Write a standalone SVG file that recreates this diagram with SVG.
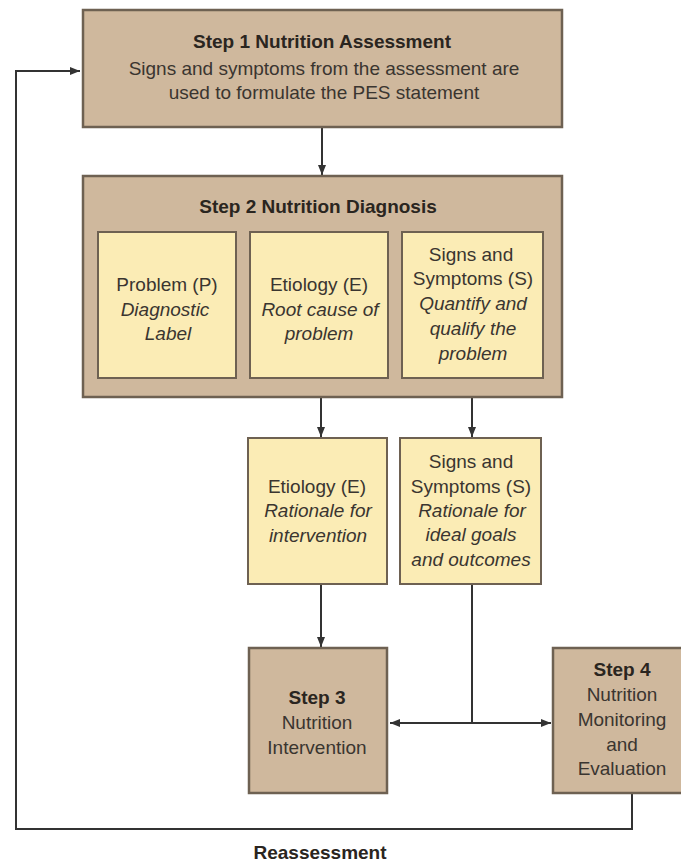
<svg xmlns="http://www.w3.org/2000/svg" width="681" height="864" viewBox="0 0 681 864">
<style>
.outer{fill:#cfb89d;stroke:#6e6152;stroke-width:2.5}
.inner{fill:#fbecb5;stroke:#6e6152;stroke-width:2}
text{font-family:"Liberation Sans",Arial,sans-serif;font-size:19px;fill:#3a3530;text-anchor:middle}
.b{font-weight:bold;fill:#2a2520}
.i{font-style:italic}
.ln{fill:none;stroke:#333;stroke-width:2}
</style>
<defs>
<marker id="ah" viewBox="0 0 10 10" refX="10" refY="5" markerWidth="10" markerHeight="10" markerUnits="userSpaceOnUse" orient="auto">
<path d="M0,1 L10,5 L0,9 z" fill="#333"/>
</marker>
</defs>
<rect width="681" height="864" fill="#fff"/>
<g id="connectors">
<line class="ln" x1="322" y1="127" x2="322" y2="175" marker-end="url(#ah)"/>
<line class="ln" x1="321" y1="378" x2="321" y2="437" marker-end="url(#ah)"/>
<line class="ln" x1="472" y1="378" x2="472" y2="437" marker-end="url(#ah)"/>
<line class="ln" x1="321" y1="584" x2="321" y2="647" marker-end="url(#ah)"/>
<line class="ln" x1="472" y1="584" x2="472" y2="723"/>
<line class="ln" x1="472" y1="723" x2="390" y2="723" marker-end="url(#ah)"/>
<line class="ln" x1="472" y1="723" x2="551" y2="723" marker-end="url(#ah)"/>
<polyline class="ln" points="632,793 632,829 16,829 16,71 80,71" marker-end="url(#ah)"/>
</g>
<g id="step1">
<rect class="outer" x="83" y="10" width="479" height="117"/>
<text class="b" x="322" y="48">Step 1 Nutrition Assessment</text>
<text x="324" y="75">Signs and symptoms from the assessment are</text>
<text x="324" y="99">used to formulate the PES statement</text>
</g>
<g id="step2">
<rect class="outer" x="83" y="176" width="479" height="221"/>
<text class="b" x="318" y="213">Step 2 Nutrition Diagnosis</text>
</g>
<g id="problem">
<rect class="inner" x="98" y="232" width="138" height="146"/>
<text x="167" y="291">Problem (P)</text>
<text class="i" x="165" y="316">Diagnostic</text>
<text class="i" x="168" y="340">Label</text>
</g>
<g id="etiology">
<rect class="inner" x="250" y="232" width="138" height="146"/>
<text x="319" y="291">Etiology (E)</text>
<text class="i" x="320" y="316">Root cause of</text>
<text class="i" x="319" y="340">problem</text>
</g>
<g id="signs">
<rect class="inner" x="402" y="232" width="141" height="146"/>
<text x="471" y="261">Signs and</text>
<text x="473" y="285">Symptoms (S)</text>
<text class="i" x="473" y="310">Quantify and</text>
<text class="i" x="473" y="335">qualify the</text>
<text class="i" x="473" y="360">problem</text>
</g>
<g id="etiology2">
<rect class="inner" x="248" y="438" width="139" height="146"/>
<text x="317" y="493">Etiology (E)</text>
<text class="i" x="318" y="517">Rationale for</text>
<text class="i" x="318" y="542">intervention</text>
</g>
<g id="signs2">
<rect class="inner" x="400" y="438" width="141" height="146"/>
<text x="471" y="468">Signs and</text>
<text x="471" y="493">Symptoms (S)</text>
<text class="i" x="472" y="517">Rationale for</text>
<text class="i" x="471" y="541">ideal goals</text>
<text class="i" x="471" y="566">and outcomes</text>
</g>
<g id="step3">
<rect class="outer" x="249" y="648" width="138" height="145"/>
<text class="b" x="317" y="704">Step 3</text>
<text x="317" y="729">Nutrition</text>
<text x="317" y="754">Intervention</text>
</g>
<g id="step4">
<rect class="outer" x="553" y="648" width="130" height="145"/>
<text class="b" x="622" y="676">Step 4</text>
<text x="622" y="701">Nutrition</text>
<text x="622" y="726">Monitoring</text>
<text x="622" y="751">and</text>
<text x="622" y="775">Evaluation</text>
</g>
<text class="b" x="320" y="859">Reassessment</text>
</svg>
